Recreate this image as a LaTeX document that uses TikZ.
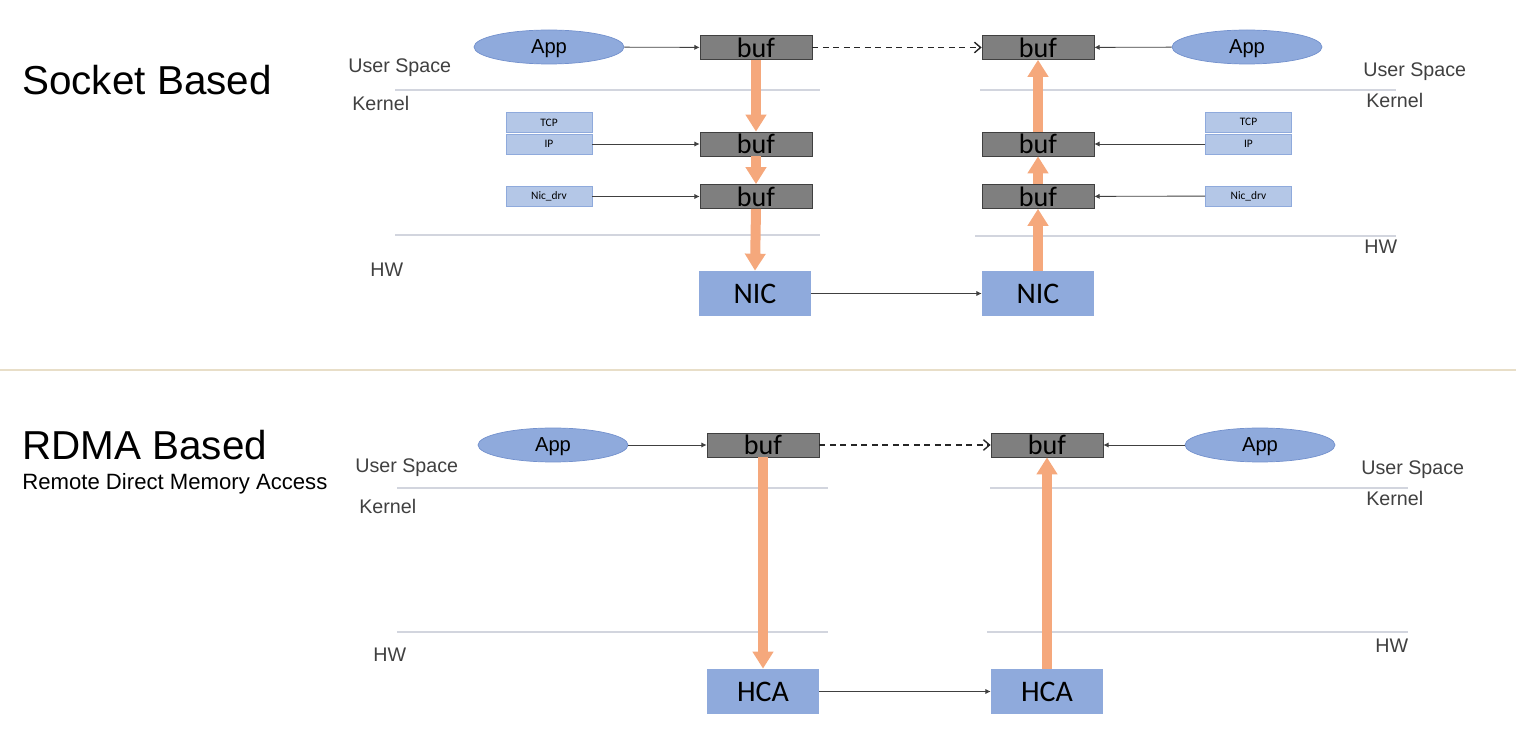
\documentclass[tikz,border=0pt]{standalone}
\usepackage{fontspec}
\setmainfont{Liberation Sans}
\newfontfamily\calibri{Carlito}
\usetikzlibrary{arrows.meta,shapes.geometric}
\definecolor{appblue}{RGB}{143,170,220}
\definecolor{appedge}{RGB}{115,145,205}
\definecolor{bufgray}{RGB}{127,127,127}
\definecolor{bufedge}{RGB}{64,64,64}
\definecolor{layerblue}{RGB}{180,199,231}
\definecolor{layeredge}{RGB}{143,170,220}
\definecolor{hwblue}{RGB}{143,170,220}
\definecolor{flow}{RGB}{245,168,124}
\definecolor{rulegray}{RGB}{210,213,222}
\definecolor{divider}{RGB}{232,222,200}
\definecolor{labelgray}{RGB}{64,64,64}

\tikzset{
  app/.style={ellipse, draw=appedge, fill=appblue, minimum width=3cm, minimum height=0.68cm, inner sep=0pt, text depth=0pt, font=\fontsize{11.5}{12}\selectfont},
  buf/.style={draw=bufedge, fill=bufgray, minimum width=2.24cm, minimum height=0.48cm, inner sep=0pt, font=\calibri\fontsize{16}{16}\selectfont},
  layer/.style={draw=layeredge, fill=layerblue, minimum width=1.72cm, minimum height=0.4cm, inner sep=0pt, font=\calibri\fontsize{6.5}{7}\selectfont},
  card/.style={fill=hwblue, minimum width=2.24cm, minimum height=0.9cm, inner sep=0pt, font=\calibri\fontsize{17}{17}\selectfont},
  zone/.style={anchor=west, inner sep=0pt, text=labelgray, font=\fontsize{11.2}{12}\selectfont},
  title/.style={anchor=west, inner sep=0pt, font=\fontsize{23}{26}\selectfont},
  link/.style={draw=black!75, line width=0.5pt, -{Latex[length=3pt,width=3pt]}},
  remote/.style={draw=black!85, line width=0.8pt, dash pattern=on 0.12cm off 0.09cm, -{Straight Barb[length=3.5pt,width=6pt]}},
  dataflow/.style={draw=flow, line width=0.2cm, -{Triangle[width=0.4cm,length=0.34cm]}},
  layerline/.style={draw=rulegray, line width=0.8pt}
}

\begin{document}
\begin{tikzpicture}[x=0.02cm,y=-0.02cm]
    \useasboundingbox (0,0) rectangle (1516,746);

    % separator between the two halves
    \draw[divider, line width=1.2pt] (0,370) -- (1516,370);

    % user space / kernel / hw borders
    \draw[layerline] (395,90) -- (820,90);
    \draw[layerline] (980,90) -- (1396,90);
    \draw[layerline] (395,235) -- (820,235);
    \draw[layerline] (975,236) -- (1396,236);
    \draw[layerline] (397,488) -- (828,488);
    \draw[layerline] (990,488) -- (1408,488);
    \draw[layerline] (397,632) -- (828,632);
    \draw[layerline] (987,632) -- (1408,632);

    \foreach \n/\x/\y/\t in {usTL/348/68/User Space, kTL/352/103/Kernel, hwTL/370/270/HW,
                             usTR/1363/72/User Space, kTR/1366/100/Kernel, hwTR/1364/247/HW,
                             usBL/355/468/User Space, kBL/359/506/Kernel, hwBL/373/655/HW,
                             usBR/1361/470/User Space, kBR/1366/498/Kernel, hwBR/1375/646/HW}
        \node[zone] (\n) at (\x,\y) {\t};

    % socket based
    \node[title] (sockettitle) at (22,80) {Socket Based};

    \node[app] (appL) at (549,47) {App};
    \node[buf] (bufLa) at (756,47.5) {buf};
    \node[buf] (bufLb) at (756,144) {buf};
    \node[buf] (bufLc) at (756,196.5) {buf};
    \node[card] (nicL) at (755,293.5) {NIC};
    \node[layer] (tcpL) at (549,122.5) {TCP};
    \node[layer] (ipL) at (549,144) {IP};
    \node[layer] (drvL) at (549,196.5) {Nic\_drv};

    \node[app] (appR) at (1247,47) {App};
    \node[buf] (bufRa) at (1038,47.5) {buf};
    \node[buf] (bufRb) at (1038,144) {buf};
    \node[buf] (bufRc) at (1038,196.5) {buf};
    \node[card] (nicR) at (1038,293.5) {NIC};
    \node[layer] (tcpR) at (1248.5,122) {TCP};
    \node[layer] (ipR) at (1248.5,144) {IP};
    \node[layer] (drvR) at (1248.5,196) {Nic\_drv};

    \draw[link] (appL) -- (bufLa);
    \draw[link] (ipL) -- (bufLb);
    \draw[link] (drvL) -- (bufLc);
    \draw[link] (nicL) -- (nicR);
    \draw[link] (appR) -- (bufRa);
    \draw[link] (ipR) -- (bufRb);
    \draw[link] (drvR) -- (bufRc);
    \draw[remote] (bufLa) -- (bufRa);

    \draw[dataflow] (bufLa.south) -- (bufLb.north);
    \draw[dataflow] (bufLb.south) -- (bufLc.north);
    \draw[dataflow] (bufLc.south) -- (nicL.north);
    \draw[dataflow] (nicR.north) -- (bufRc.south);
    \draw[dataflow] (bufRc.north) -- (bufRb.south);
    \draw[dataflow] (bufRb.north) -- (bufRa.south);

    % rdma based
    \node[title] (rdmatitle) at (22,445) {RDMA Based};
    \node[anchor=west, inner sep=0pt, font=\fontsize{12.6}{14}\selectfont] (rdmasub) at (22,484) {Remote Direct Memory Access};

    \node[app] (rappL) at (553,445) {App};
    \node[buf] (rbufL) at (763,445) {buf};
    \node[card] (hcaL) at (763,691.5) {HCA};
    \node[app] (rappR) at (1260,445) {App};
    \node[buf] (rbufR) at (1047,445) {buf};
    \node[card] (hcaR) at (1047,691.5) {HCA};

    \draw[link] (rappL) -- (rbufL);
    \draw[link] (hcaL) -- (hcaR);
    \draw[link] (rappR) -- (rbufR);
    \draw[remote] (rbufL) -- (rbufR);

    \draw[dataflow] (rbufL.south) -- (hcaL.north);
    \draw[dataflow] (hcaR.north) -- (rbufR.south);
\end{tikzpicture}
\end{document}
